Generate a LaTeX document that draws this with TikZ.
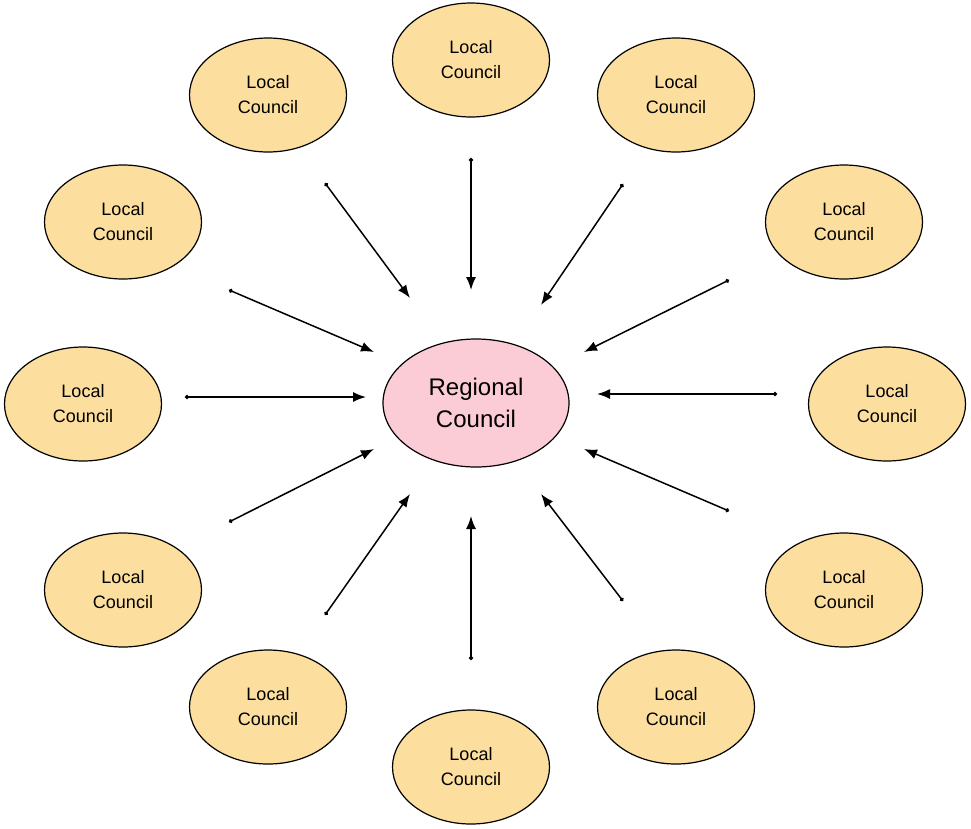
\documentclass[tikz,border=0pt]{standalone}
\usepackage{fontspec}
\setmainfont{Liberation Sans}
\usetikzlibrary{arrows.meta,shapes.geometric}
\definecolor{localfill}{RGB}{252,222,158}
\definecolor{regfill}{RGB}{252,204,214}
\begin{document}
\begin{tikzpicture}[x=1pt,y=-1pt,
  local/.style={ellipse,draw,line width=1.2pt,fill=localfill,minimum width=157pt,minimum height=114pt,align=center,font=\fontsize{18}{25}\selectfont},
  regional/.style={ellipse,draw,line width=1.2pt,fill=regfill,minimum width=186pt,minimum height=128pt,align=center,font=\fontsize{24}{32}\selectfont},
  link/.style={line width=1.5pt,{Circle[length=4pt]}-{Latex[length=13pt,width=10pt]}}]
\useasboundingbox (0,0) rectangle (971,828);
\node[regional] (R) at (476,403) {Regional\\Council};
\foreach \n/\x/\y in {a/471/60,b/268/95,c/676/95,d/123/222,e/844/222,f/83/404,g/887/404,h/123/590,i/844/590,j/268/707,k/676/707,l/471/767}
  \node[local] (\n) at (\x,\y) {Local\\Council};
\foreach \n/\sx/\sy/\ex/\ey in {a/471/158/471/290, b/325/183/410/298, c/623/184/541/305, d/229/290/374/352, e/729/280/584/352, f/185/397/366/397, g/777/394/597/394, h/229/522/374/449, i/729/511/584/449, j/325/615/410/494, k/623/601/541/494, l/471/660/471/516}{
  \coordinate (s\n) at (\sx,\sy);
  \coordinate (t\n) at (\ex,\ey);
  \draw[link] (s\n) -- (t\n);
}
\end{tikzpicture}
\end{document}
